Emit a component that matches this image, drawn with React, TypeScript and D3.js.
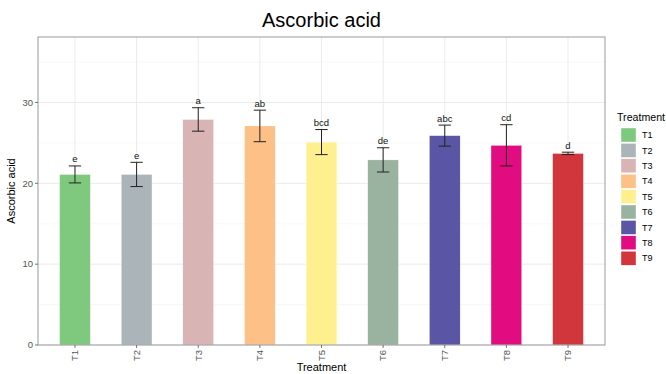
import React from 'react';
import * as d3 from 'd3';

const treatments = ['T1', 'T2', 'T3', 'T4', 'T5', 'T6', 'T7', 'T8', 'T9'];
const means = [21.1, 21.1, 27.9, 27.1, 25.1, 22.9, 25.9, 24.7, 23.7];
const errors = [1.05, 1.5, 1.45, 1.95, 1.55, 1.5, 1.3, 2.55, 0.15];
const letters = ['e', 'e', 'a', 'ab', 'bcd', 'de', 'abc', 'cd', 'd'];
const colors = ['#7fc97f', '#aab4b9', '#d8b4b4', '#fdc086', '#fff08f', '#9ab3a0', '#5b55a5', '#e00c80', '#d1363d'];
const yTicks = [0, 10, 20, 30];
const yMinor = [5, 15, 25, 35];

const W = 666, H = 374;
const panel = { left: 38, right: 605, top: 37, bottom: 345 };
const font = 'Liberation Sans, Arial, sans-serif';

export default function App() {
  const x = d3.scaleBand<string>()
    .domain(treatments)
    .range([panel.left, panel.right])
    .paddingOuter(0.1)
    .paddingInner(0);
  const y = d3.scaleLinear().domain([0, 38.1]).range([panel.bottom, panel.top]);
  const step = x.step();
  const barW = step * 0.5;
  const capW = step * 0.2;
  const cx = (t: string) => (x(t) as number) + step / 2;

  return (
    <svg width={W} height={H} style={{ position: 'absolute', left: 0, top: 0 }} fontFamily={font}>
      <rect width={W} height={H} fill="#fff" />
      <text x={(panel.left + panel.right) / 2} y={27} textAnchor="middle" fontSize={20} fill="#000">Ascorbic acid</text>

      {/* grid */}
      {yMinor.map(v => (
        <line key={'m' + v} x1={panel.left} x2={panel.right} y1={y(v)} y2={y(v)} stroke="#f4f4f4" strokeWidth={0.6} />
      ))}
      {yTicks.map(v => (
        <line key={'g' + v} x1={panel.left} x2={panel.right} y1={y(v)} y2={y(v)} stroke="#ebebeb" strokeWidth={1} />
      ))}
      {treatments.map(t => (
        <line key={'v' + t} x1={cx(t)} x2={cx(t)} y1={panel.top} y2={panel.bottom} stroke="#ebebeb" strokeWidth={1} />
      ))}

      {/* bars */}
      {treatments.map((t, i) => (
        <rect key={'b' + t} x={cx(t) - barW / 2} width={barW} y={y(means[i])} height={y(0) - y(means[i])}
          fill={colors[i]} stroke="#ffffff" strokeWidth={0.4} />
      ))}

      {/* error bars */}
      {treatments.map((t, i) => {
        const hi = y(means[i] + errors[i]);
        const lo = y(means[i] - errors[i]);
        const c = cx(t);
        return (
          <g key={'e' + t} stroke="#222" strokeWidth={1}>
            <line x1={c} x2={c} y1={hi} y2={lo} />
            <line x1={c - capW / 2} x2={c + capW / 2} y1={hi} y2={hi} />
            <line x1={c - capW / 2} x2={c + capW / 2} y1={lo} y2={lo} />
          </g>
        );
      })}

      {/* letters */}
      {treatments.map((t, i) => (
        <text key={'l' + t} x={cx(t)} y={y(means[i] + errors[i]) - 3.5} textAnchor="middle" fontSize={9.5} fill="#111">
          {letters[i]}
        </text>
      ))}

      <rect x={panel.left} y={panel.top} width={panel.right - panel.left} height={panel.bottom - panel.top}
        fill="none" stroke="#9a9a9a" strokeWidth={1} />

      {/* y axis */}
      {yTicks.map(v => (
        <g key={'yt' + v}>
          <line x1={panel.left - 3} x2={panel.left} y1={y(v)} y2={y(v)} stroke="#555" strokeWidth={0.8} />
          <text x={panel.left - 5} y={y(v)} dy="0.35em" textAnchor="end" fontSize={9.5} fill="#555">{v}</text>
        </g>
      ))}
      <text transform={`translate(15,${(panel.top + panel.bottom) / 2}) rotate(-90)`} textAnchor="middle" fontSize={11} fill="#000">
        Ascorbic acid
      </text>

      {/* x axis */}
      {treatments.map(t => (
        <g key={'xt' + t}>
          <line x1={cx(t)} x2={cx(t)} y1={panel.bottom} y2={panel.bottom + 3} stroke="#555" strokeWidth={0.8} />
          <text transform={`translate(${cx(t)},${panel.bottom + 5}) rotate(-90)`} textAnchor="end" dy="0.35em"
            fontSize={9.5} fill="#555">{t}</text>
        </g>
      ))}
      <text x={(panel.left + panel.right) / 2} y={371} textAnchor="middle" fontSize={11} fill="#000">Treatment</text>

      {/* legend */}
      <text x={617} y={121} fontSize={10.5} fill="#000" textLength={48} lengthAdjust="spacingAndGlyphs">Treatment</text>
      {treatments.map((t, i) => (
        <g key={'lg' + t} transform={`translate(621,${128 + i * 15.4})`}>
          <rect width={15} height={14} fill={colors[i]} stroke="#fff" strokeWidth={0.4} />
          <text x={21} y={7} dy="0.35em" fontSize={9} fill="#000">{t}</text>
        </g>
      ))}
    </svg>
  );
}
